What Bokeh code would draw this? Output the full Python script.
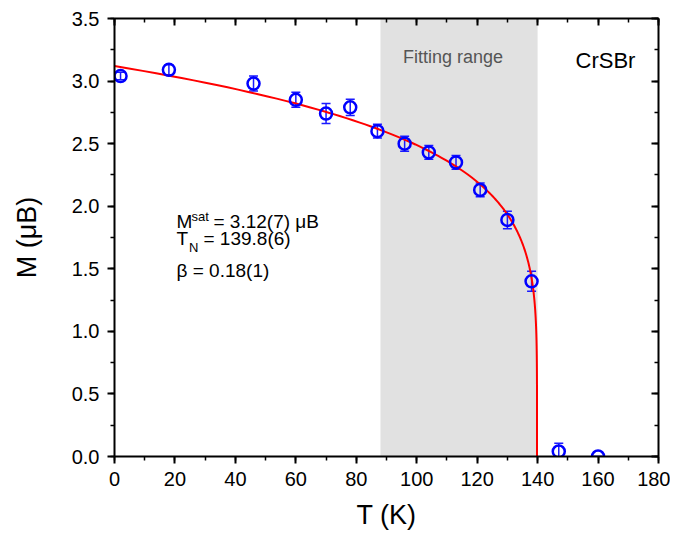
import numpy as np
from bokeh.plotting import figure
from bokeh.models import (ColumnDataSource, Range1d, LinearAxis, BoxAnnotation,
                          Whisker, TeeHead, Label, SingleIntervalTicker,
                          PrintfTickFormatter, CustomJSTickFormatter)
from bokeh.embed import file_html
from bokeh.resources import INLINE

# ---------------- data ----------------
temps = [2, 18, 46, 60, 70, 78, 87, 96, 104, 113, 121, 130, 138, 147, 160]
moment = [3.04, 3.09, 2.98, 2.85, 2.74, 2.79, 2.60, 2.50, 2.43, 2.35, 2.13, 1.89, 1.40, 0.04, 0.0]
moment_err = [0.03, 0.04, 0.06, 0.06, 0.08, 0.065, 0.055, 0.06, 0.055, 0.055, 0.055, 0.07, 0.08, 0.065, 0.0]

# fitted power law M = Msat (1 - T/TN)^beta (parameters printed on the chart)
m_sat = 3.12
t_neel = 139.8
beta = 0.18

fit_range = (88, 140)
x_limits = (0, 180)
y_limits = (0, 3.5)

FONT = "Liberation Sans"

# ---------------- figure ----------------
FRAME_W, FRAME_H = 544, 438
BL, BT = 114, 18
p = figure(frame_width=FRAME_W, frame_height=FRAME_H,
           x_range=Range1d(*x_limits), y_range=Range1d(*y_limits),
           output_backend="svg", toolbar_location=None,
           min_border_left=BL, min_border_right=12, min_border_top=BT,
           min_border_bottom=74, background_fill_color="white",
           border_fill_color="white", outline_line_color=None)
p.xgrid.visible = False
p.ygrid.visible = False

# page-pixel -> data helpers (for text placement only)
FL, FT = BL, BT
def px_x(px):
    return (px - FL) / FRAME_W * (x_limits[1] - x_limits[0]) + x_limits[0]
def px_y(py):
    return (FT + FRAME_H - py) / FRAME_H * (y_limits[1] - y_limits[0]) + y_limits[0]

# shaded fitting range
p.add_layout(BoxAnnotation(left=fit_range[0], right=fit_range[1],
                           fill_color="#e1e1e1", fill_alpha=1.0,
                           line_color=None, level="underlay"))

# fit curve
s = np.concatenate([np.geomspace(1.0, 1e-9, 600), [0.0]])
t_fit = t_neel * (1.0 - s)
m_fit = m_sat * np.power(np.clip(1.0 - t_fit / t_neel, 0, None), beta)
p.line(t_fit, m_fit, line_color="#ff0000", line_width=2)

# data with error bars
src = ColumnDataSource(dict(
    t=temps, m=moment,
    lo=[m - e for m, e in zip(moment, moment_err)],
    hi=[m + e for m, e in zip(moment, moment_err)]))
p.add_layout(Whisker(base="t", lower="lo", upper="hi", source=src,
                     line_color="#1a1aff", line_width=1.5,
                     upper_head=TeeHead(size=9, line_color="#1a1aff", line_width=1.5),
                     lower_head=TeeHead(size=9, line_color="#1a1aff", line_width=1.5)))
p.scatter("t", "m", source=src, marker="circle", size=12,
          fill_alpha=0, line_color="#0000ff", line_width=2.5)

# ---------------- axes ----------------
def style_main(ax):
    ax.axis_line_width = 2
    ax.axis_line_color = "black"
    ax.major_tick_out = 7
    ax.major_tick_in = 0
    ax.minor_tick_out = 4
    ax.minor_tick_in = 0
    ax.major_tick_line_width = 2
    ax.minor_tick_line_width = 1.5
    ax.major_label_text_font = FONT
    ax.major_label_text_font_size = "20px"
    ax.major_label_text_color = "black"
    ax.major_label_standoff = 8
    ax.axis_label_text_font = FONT
    ax.axis_label_text_font_size = "27px"
    ax.axis_label_text_font_style = "normal"
    ax.axis_label_text_color = "black"

p.xaxis.ticker = SingleIntervalTicker(interval=20, num_minor_ticks=2)
p.yaxis.ticker = SingleIntervalTicker(interval=0.5, num_minor_ticks=2)
p.xaxis.formatter = PrintfTickFormatter(format="%d")
p.yaxis.formatter = PrintfTickFormatter(format="%.1f")
style_main(p.xaxis[0])
style_main(p.yaxis[0])
p.xaxis.axis_label = "T (K)"
p.xaxis.axis_label_standoff = 11
p.yaxis.axis_label = "M (μB)"
p.yaxis.axis_label_standoff = 27

def mirror(ticker):
    ax = LinearAxis(ticker=ticker, formatter=CustomJSTickFormatter(code="return ''"))
    ax.axis_line_width = 2
    ax.axis_line_color = "black"
    ax.major_tick_in = 7
    ax.major_tick_out = 0
    ax.minor_tick_in = 4
    ax.minor_tick_out = 0
    ax.major_tick_line_width = 2
    ax.minor_tick_line_width = 1.5
    ax.major_label_standoff = 0
    return ax

p.add_layout(mirror(SingleIntervalTicker(interval=20, num_minor_ticks=2)), "above")
p.add_layout(mirror(SingleIntervalTicker(interval=0.5, num_minor_ticks=2)), "right")

# ---------------- annotations ----------------
def lab(px, py, text, size, color="black", align="left"):
    p.add_layout(Label(x=px_x(px), y=px_y(py), text=text, text_font=FONT,
                       text_font_size=size, text_color=color, text_align=align,
                       text_baseline="alphabetic"))

lab(452.5, 56.7, "Fitting range", "18px", color="#555555", align="center")
lab(605, 60, "CrSBr", "22px", align="center")

lab(176, 221, "M", "19px")
lab(191, 215.5, "sat", "13px")
lab(213, 221, "= 3.12(7) μB", "19px")
lab(176, 238, "T", "19px")
lab(188.5, 246.5, "N", "13px")
lab(203, 238, "= 139.8(6)", "19px")
lab(176, 270, "β = 0.18(1)", "19px")

open("out.html", "w").write(file_html(p, INLINE))
